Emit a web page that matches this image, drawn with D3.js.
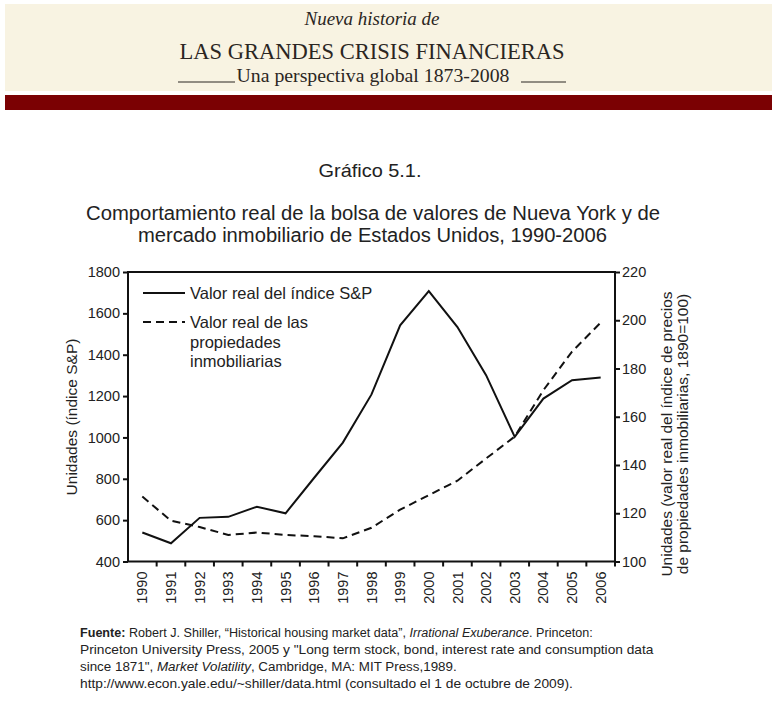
<!DOCTYPE html>
<html><head><meta charset="utf-8">
<script src="https://cdn.jsdelivr.net/npm/d3@7"></script>
<style>body{margin:0;background:#fff}svg{display:block}</style>
</head><body>
<script>
const years = [1990,1991,1992,1993,1994,1995,1996,1997,1998,1999,2000,2001,2002,2003,2004,2005,2006];
const spValues = [540,488,611,616,665,633,805,975,1208,1542,1708,1534,1301,1003,1188,1277,1290];
const housingValues = [126.9,116.9,114.3,111,112,111,110.5,109.6,114,121.5,127.5,133.5,142.7,151.8,171,187,199];
const leftTicks = [400,600,800,1000,1200,1400,1600,1800];
const rightTicks = [100,120,140,160,180,200,220];
const legendLabels = [["Valor real del índice S&P"],["Valor real de las","propiedades","inmobiliarias"]];

const W=777,H=716;
const svg=d3.select("body").append("svg").attr("width",W).attr("height",H);
const sans="'Liberation Sans', Arial, sans-serif";
const serif="'Liberation Serif', 'DejaVu Serif', serif";

// header
svg.append("rect").attr("x",5).attr("y",4).attr("width",767).attr("height",87).attr("fill","#f8f3e2");
svg.append("rect").attr("x",5).attr("y",95).attr("width",767).attr("height",15).attr("fill","#7b0103");
svg.append("text").attr("x",372).attr("y",25).attr("text-anchor","middle").attr("font-family",serif)
  .attr("font-style","italic").attr("font-size",19).attr("fill","#2b2622").attr("textLength",135).attr("lengthAdjust","spacingAndGlyphs").text("Nueva historia de");
svg.append("text").attr("x",372).attr("y",59).attr("text-anchor","middle").attr("font-family",serif)
  .attr("font-size",24).attr("fill","#2b2622").attr("textLength",385).attr("lengthAdjust","spacingAndGlyphs").text("LAS GRANDES CRISIS FINANCIERAS");
svg.append("text").attr("x",373).attr("y",82).attr("text-anchor","middle").attr("font-family",serif)
  .attr("font-size",19).attr("fill","#2b2622").attr("textLength",273).attr("lengthAdjust","spacingAndGlyphs").text("Una perspectiva global 1873-2008");
svg.append("line").attr("x1",178).attr("x2",235).attr("y1",82).attr("y2",82).attr("stroke","#2b2622").attr("stroke-width",1);
svg.append("line").attr("x1",521).attr("x2",566).attr("y1",82).attr("y2",82).attr("stroke","#2b2622").attr("stroke-width",1);

// titles
svg.append("text").attr("x",370).attr("y",177).attr("text-anchor","middle").attr("font-family",sans).attr("font-size",19).attr("fill","#222")
  .attr("textLength",103).attr("lengthAdjust","spacingAndGlyphs").text("Gráfico 5.1.");
svg.append("text").attr("x",373).attr("y",220).attr("text-anchor","middle").attr("font-family",sans).attr("font-size",19.5).attr("fill","#222")
  .attr("textLength",574).attr("lengthAdjust","spacingAndGlyphs").text("Comportamiento real de la bolsa de valores de Nueva York y de");
svg.append("text").attr("x",372.5).attr("y",242).attr("text-anchor","middle").attr("font-family",sans).attr("font-size",19.5).attr("fill","#222")
  .attr("textLength",469).attr("lengthAdjust","spacingAndGlyphs").text("mercado inmobiliario de Estados Unidos, 1990-2006");

// scales
const L=128,R=615,T=272,B=561.5;
const x=d3.scaleBand().domain(years).range([L,R]).padding(0);
const yL=d3.scaleLinear().domain([400,1800]).range([B,T]);
const yR=d3.scaleLinear().domain([100,220]).range([B,T]);
const cx=d=>x(d)+x.bandwidth()/2;

// frame
svg.append("rect").attr("x",L).attr("y",T).attr("width",R-L).attr("height",B-T).attr("fill","none").attr("stroke","#111").attr("stroke-width",2);

// axes
const gL=svg.append("g").attr("transform",`translate(${L},0)`).call(d3.axisLeft(yL).tickValues(leftTicks).tickSize(5).tickPadding(3).tickFormat(d3.format("d")));
const gR=svg.append("g").attr("transform",`translate(${R},0)`).call(d3.axisRight(yR).tickValues(rightTicks).tickSize(5).tickPadding(2));
const gB=svg.append("g").attr("transform",`translate(0,${B})`).call(d3.axisBottom(x).tickSize(0).tickPadding(0));
[gL,gR,gB].forEach(g=>{g.select(".domain").remove();g.selectAll("line").attr("stroke","#111").attr("stroke-width",2);
  g.selectAll("text").attr("font-family",sans).attr("font-size",14.5).attr("fill","#222");});
gB.selectAll("text").attr("transform","rotate(-90)").attr("text-anchor","end").attr("dy","0.35em").attr("x",-10).attr("y",0);
// bottom ticks at band boundaries
svg.append("g").selectAll("line").data(years).join("line")
  .attr("x1",d=>x(d)+x.bandwidth()).attr("x2",d=>x(d)+x.bandwidth())
  .attr("y1",B).attr("y2",B+5).attr("stroke","#111").attr("stroke-width",2);

// axis titles
svg.append("text").attr("transform",`translate(77,417) rotate(-90)`).attr("text-anchor","middle").attr("font-family",sans).attr("font-size",15.5).attr("fill","#222").text("Unidades (índice S&P)");
svg.append("text").attr("transform",`translate(672,434) rotate(-90)`).attr("text-anchor","middle").attr("font-family",sans).attr("font-size",15.5).attr("fill","#222").text("Unidades (valor real del índice de precios");
svg.append("text").attr("transform",`translate(688,434) rotate(-90)`).attr("text-anchor","middle").attr("font-family",sans).attr("font-size",15.5).attr("fill","#222").text("de propiedades inmobiliarias, 1890=100)");

// lines
const lineL=d3.line().x((d,i)=>cx(years[i])).y(d=>yL(d));
const lineR=d3.line().x((d,i)=>cx(years[i])).y(d=>yR(d));
svg.append("path").attr("d",lineR(housingValues)).attr("fill","none").attr("stroke","#111").attr("stroke-width",2).attr("stroke-dasharray","8,5");
svg.append("path").attr("d",lineL(spValues)).attr("fill","none").attr("stroke","#111").attr("stroke-width",2);

// legend
svg.append("line").attr("x1",143).attr("x2",185).attr("y1",293).attr("y2",293).attr("stroke","#111").attr("stroke-width",2);
svg.append("line").attr("x1",143).attr("x2",185).attr("y1",322).attr("y2",322).attr("stroke","#111").attr("stroke-width",2).attr("stroke-dasharray","8,5");
svg.append("text").attr("x",190).attr("y",299).attr("font-family",sans).attr("font-size",16.5).attr("fill","#222").text(legendLabels[0][0]);
legendLabels[1].forEach((t,i)=>svg.append("text").attr("x",190).attr("y",328+i*19.5).attr("font-family",sans).attr("font-size",16.5).attr("fill","#222").text(t));

// source (each line scaled horizontally to the reference width)
const src=svg.append("g").attr("font-family",sans).attr("font-size",13.5).attr("fill","#222");
function srcLine(y,w,parts){
  const g=src.append("g");
  const t=g.append("text").attr("x",0).attr("y",0);
  parts.forEach(p=>{const s=t.append("tspan").text(p[0]); if(p[1]==="b")s.attr("font-weight","bold"); if(p[1]==="i")s.attr("font-style","italic");});
  const nat=t.node().getComputedTextLength();
  g.attr("transform",`translate(80,${y}) scale(${w/nat},1)`);
}
srcLine(637,513,[["Fuente:","b"],[" Robert J. Shiller, “Historical housing market data”, "],["Irrational Exuberance","i"],[". Princeton:"]]);
srcLine(654,574,[["Princeton University Press, 2005 y \"Long term stock, bond, interest rate and consumption data"]]);
srcLine(671,377,[["since 1871\", "],["Market Volatility","i"],[", Cambridge, MA: MIT Press,1989."]]);
srcLine(688,493,[["http://www.econ.yale.edu/~shiller/data.html (consultado el 1 de octubre de 2009)."]]);
</script>
</body></html>
